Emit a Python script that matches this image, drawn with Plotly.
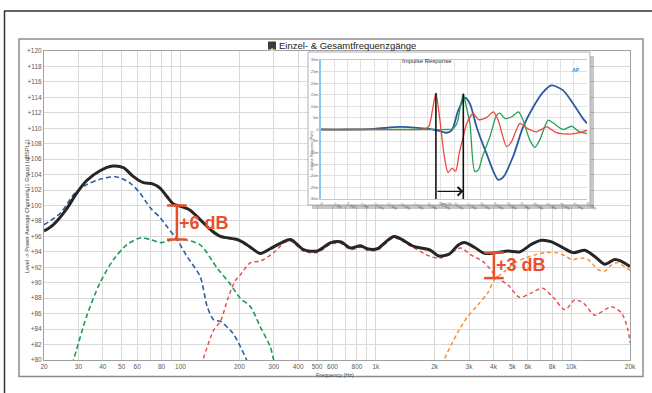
import math
import plotly.graph_objects as go

# ---------------- data: main frequency responses ----------------
total_f = [20, 22.3, 26, 29.4, 33, 38.7, 45, 51, 57, 64, 72, 79, 85, 92, 100, 112, 128, 145, 160, 195, 210,
           228, 256, 288, 330, 366, 426, 500, 588, 660, 742, 834, 904, 1016, 1238, 1568, 1906, 2080, 2370,
           2616, 2834, 3192, 3596, 4136, 4750, 5458, 6272, 7058, 7940, 9120, 10240, 11740, 13200, 14840,
           16680, 18000, 20000]
total_db = [96.7, 97.5, 99.5, 101.6, 103.2, 104.5, 105.1, 104.9, 103.8, 103.0, 102.8, 102.2, 101.2, 100.2,
            99.9, 99.4, 98.0, 96.7, 96.0, 95.6, 95.2, 94.6, 93.8, 94.4, 95.2, 95.6, 94.3, 94.1, 95.2, 95.3,
            94.5, 94.8, 94.4, 94.4, 96.0, 94.7, 94.2, 93.5, 93.7, 94.8, 95.2, 94.6, 93.8, 93.9, 94.1, 94.0,
            95.0, 95.5, 95.3, 94.5, 93.9, 94.2, 93.4, 92.4, 93.0, 92.8, 92.1]

woofer_f = [20, 24.2, 28.8, 33.1, 38.7, 47.2, 55.2, 62, 70, 78.8, 85, 95.8, 108, 126, 137, 148, 160, 185,
            200, 218, 230]
woofer_db = [97.5, 99.0, 101.6, 102.7, 103.4, 103.7, 102.9, 101.6, 99.7, 98.4, 97.3, 95.6, 93.4, 90.8, 86.9,
             85.2, 85.0, 83.5, 82.0, 80.0, 78.5]

lowmid_f = [27, 28.3, 33, 38.7, 45.4, 53, 62, 70, 79, 92, 104, 126, 154, 180, 202, 228, 256, 288, 300, 310]
lowmid_db = [78.5, 80.0, 85.6, 90.0, 93.0, 94.9, 95.8, 95.6, 95.2, 95.6, 95.6, 94.9, 91.9, 89.8, 88.0, 86.9,
             84.3, 81.7, 80.0, 79.0]

mid_f = [125, 131, 148, 160, 175, 190, 202, 228, 256, 300, 340, 366, 426, 500, 588, 660, 742, 834, 904,
         1016, 1238, 1568, 1906, 2120, 2414, 2720, 3066, 3596, 4136, 4750, 5458, 6272, 7120, 8100, 9300,
         10440, 11520, 13200, 14840, 16060, 18080, 19520, 20000]
mid_db = [78.5, 80.2, 83.9, 85.0, 88.0, 90.2, 91.0, 92.6, 92.8, 93.9, 95.2, 95.4, 94.1, 93.9, 95.0, 95.1,
          94.3, 94.6, 94.2, 94.2, 95.8, 94.5, 93.4, 93.2, 93.8, 94.5, 93.6, 92.6, 90.8, 89.7, 88.1, 88.7,
          89.3, 88.1, 86.5, 87.8, 87.4, 85.8, 86.5, 86.9, 86.1, 83.9, 82.2]

tweeter_f = [2150, 2236, 2616, 2948, 3320, 3740, 4056, 4570, 5148, 5800, 6532, 7360, 8292, 9300, 10040,
             11300, 12220, 13740, 14840, 16060, 17360, 18740, 20000]
tweeter_db = [78.5, 80.0, 83.5, 85.6, 87.1, 88.7, 90.4, 91.5, 92.6, 93.2, 93.6, 93.9, 93.9, 93.5, 93.0,
              93.2, 93.0, 91.7, 91.5, 92.3, 92.6, 92.1, 91.6]

# level-difference brackets
gap6_f, gap6_db, gap6_text = 95.8, [100.0, 95.6], "+6 dB"
gap3_f, gap3_db, gap3_text = 4020, [93.9, 90.6], "+3 dB"

# axes
x_tickvals = [20, 30, 40, 50, 60, 80, 100, 200, 300, 400, 500, 600, 800, 1000, 2000, 3000, 4000, 5000,
              6000, 8000, 10000, 20000]
x_ticktext = ["20", "30", "40", "50", "60", "80", "100", "200", "300", "400", "500", "600", "800", "1k",
              "2k", "3k", "4k", "5k", "6k", "8k", "10k", "20k"]
x_minor = [70, 90, 700, 900, 7000, 9000]
y_tickvals = list(range(80, 121, 2))
y_ticktext = ["+%d" % v for v in y_tickvals]

# ---------------- data: impulse response inset (time in ms, value in mPa/V) ----------------
ir_red_t = [0, 10, 19.5, 20.3, 21.0, 21.6, 22.3, 23.2, 23.9, 24.6, 25.3, 26.0, 26.75, 27.4, 28.6, 29.6,
            31.1, 32.4, 33.3, 34.9, 35.8, 37.4, 38.6, 40.5, 42.4, 44.25, 46.75, 48.6, 50]
ir_red_v = [0, 0, 0.3, 1.5, 9, 15.7, 5, -12, -18.6, -16.7, -18.0, -10, -3.1, 2.6, 6.9, 4.3, 5.1, 7.6,
            4.0, -7.4, -5.3, 2.6, 0.7, -1.0, 1.1, -1.4, -2.0, -1.4, -0.3]
ir_green_t = [0, 20, 23.6, 24.8, 25.6, 26.2, 26.75, 27.3, 28.0, 28.9, 29.6, 30.3, 31.75, 33.0, 33.6, 34.6,
              35.8, 37.1, 38.0, 39.25, 40.2, 41.1, 42.7, 43.6, 45.5, 47.1, 48.6, 50]
ir_green_v = [0, 0, 0, 0.3, 3, 10, 15.4, 10, 2.6, -18.1, -17.4, -12, -3.1, 6.1, 7.1, 4.7, 5.4, 7.6, 4.0,
              -4.6, -7.7, -4.6, 4.0, 2.9, 0, 1.4, -1.0, -1.7]
ir_blue_t = [0, 5, 10, 14.9, 19, 21.1, 22.5, 23.6, 24.6, 25.8, 27.1, 28.0, 29.25, 31.1, 33.3, 34.25, 36.1,
             38.0, 39.9, 41.75, 43.3, 45.5, 47.4, 49.25, 50]
ir_blue_v = [0, 0, 0.3, 1.1, 0.5, 0, -0.8, -1.4, -0.3, 8.3, 13.7, 11.1, 1.1, -10.3, -21.7, -20.6, -11.7,
             1.1, 9.7, 16.1, 19.0, 16.9, 11.1, 4.7, 2.6]
ir_mark_t = [21.6, 26.75]
ir_mark_v = [15.7, 15.4]
ir_arrow_v = -26.7
ir_x_tickvals = [i * 2.5 for i in range(21)]
ir_x_ticktext = ["0"] + ["%.1fm" % v for v in ir_x_tickvals[1:]]
ir_y_tickvals = list(range(-30, 31, 5))
ir_y_ticktext = [("%dm" % v if v != 0 else "0") for v in ir_y_tickvals]

# ---------------- layout helpers (pixel -> paper) ----------------
W, H = 652, 393
PL, PR, PT, PB = 44, 630, 51, 360


def pxx(x):
    return (x - PL) / (PR - PL)


def pxy(y):
    return (PB - y) / (PB - PT)


FONT = "Liberation Sans"
ORANGE_RED = "#e8502c"

fig = go.Figure()

dash = "5px,3px"
fig.add_trace(go.Scatter(x=woofer_f, y=woofer_db, mode="lines",
                         line=dict(color="#2c5fa6", width=1.6, dash=dash, shape="spline", smoothing=0.8)))
fig.add_trace(go.Scatter(x=lowmid_f, y=lowmid_db, mode="lines",
                         line=dict(color="#1c9c52", width=1.6, dash=dash, shape="spline", smoothing=0.8)))
fig.add_trace(go.Scatter(x=mid_f, y=mid_db, mode="lines",
                         line=dict(color="#ee4646", width=1.4, dash="4px,3px", shape="spline", smoothing=0.8)))
fig.add_trace(go.Scatter(x=tweeter_f, y=tweeter_db, mode="lines",
                         line=dict(color="#f58a2c", width=1.4, dash="4px,3px", shape="spline", smoothing=0.8)))
fig.add_trace(go.Scatter(x=total_f, y=total_db, mode="lines",
                         line=dict(color="#262626", width=3, shape="spline", smoothing=0.8)))

for f, dbs, txt in [(gap6_f, gap6_db, gap6_text), (gap3_f, gap3_db, gap3_text)]:
    fig.add_trace(go.Scatter(x=[f, f], y=dbs, mode="lines+markers",
                             line=dict(color=ORANGE_RED, width=2.5),
                             marker=dict(symbol="line-ew-open", size=14, color=ORANGE_RED,
                                         line=dict(color=ORANGE_RED, width=2.5))))
    fig.add_annotation(x=math.log10(f), y=(dbs[0] + dbs[1]) / 2, xref="x", yref="y",
                       text="<b>%s</b>" % txt,
                       showarrow=False, xanchor="left", yanchor="middle", xshift=0,
                       font=dict(family=FONT, size=18, color=ORANGE_RED))

# box subplot (white background of the inset panel)
box = dict(x0=308, x1=590, y0=52, y1=205)
fig.add_trace(go.Scatter(x=[None], y=[None], xaxis="x2", yaxis="y2", hoverinfo="skip"))

# inset traces
fig.add_trace(go.Scatter(x=ir_blue_t, y=ir_blue_v, xaxis="x3", yaxis="y3", mode="lines",
                         line=dict(color="#2c5aa0", width=1.8, shape="spline", smoothing=0.8)))
fig.add_trace(go.Scatter(x=ir_green_t, y=ir_green_v, xaxis="x3", yaxis="y3", mode="lines",
                         line=dict(color="#23a05a", width=1.3, shape="spline", smoothing=0.7)))
fig.add_trace(go.Scatter(x=ir_red_t, y=ir_red_v, xaxis="x3", yaxis="y3", mode="lines",
                         line=dict(color="#ea4a3c", width=1.3, shape="spline", smoothing=0.7)))
for t, v in zip(ir_mark_t, ir_mark_v):
    fig.add_trace(go.Scatter(x=[t, t], y=[v, -30], xaxis="x3", yaxis="y3", mode="lines",
                             line=dict(color="#111111", width=1.6)))
fig.add_annotation(x=ir_mark_t[1], y=ir_arrow_v, ax=ir_mark_t[0], ay=ir_arrow_v,
                   xref="x3", yref="y3", axref="x3", ayref="y3", showarrow=True,
                   arrowhead=4, arrowsize=1.3, arrowwidth=1.3, arrowcolor="#111111", text="")

axis_font = dict(family=FONT, size=6.5, color="#5a5a5a")
fig.update_layout(
    width=W, height=H,
    margin=dict(l=PL, r=W - PR, t=PT, b=H - PB),
    paper_bgcolor="white", plot_bgcolor="white",
    showlegend=False,
    font=dict(family=FONT),
    xaxis=dict(type="log", range=[1.30103, 4.30103], tickvals=x_tickvals, ticktext=x_ticktext,
               showgrid=True, gridcolor="#d9d9d9", gridwidth=1, zeroline=False,
               minor=dict(tickvals=x_minor, showgrid=True, gridcolor="#d9d9d9", gridwidth=1),
               showline=True, linecolor="#a0a0a0", linewidth=1, mirror=True,
               tickfont=axis_font, ticks="", domain=[0, 1]),
    yaxis=dict(range=[80, 120], tickvals=y_tickvals, ticktext=y_ticktext,
               showgrid=True, gridcolor="#d9d9d9", gridwidth=1, zeroline=False,
               showline=True, linecolor="#a0a0a0", linewidth=1, mirror=True,
               tickfont=axis_font, ticks="", domain=[0, 1]),
    xaxis2=dict(domain=[pxx(box["x0"]), pxx(box["x1"])], anchor="y2", visible=False, range=[0, 1]),
    yaxis2=dict(domain=[pxy(box["y1"]), pxy(box["y0"])], anchor="x2", visible=False, range=[0, 1]),
    xaxis3=dict(domain=[pxx(321), pxx(587)], anchor="y3", range=[0, 50], tickvals=ir_x_tickvals,
                ticktext=ir_x_ticktext, showgrid=True, gridcolor="#e2e2e2", zeroline=False,
                showline=True, linecolor="#c8c8c8", mirror=True, ticks="",
                tickfont=dict(family=FONT, size=4, color="#666666")),
    yaxis3=dict(domain=[pxy(199), pxy(60)], anchor="x3", range=[-30, 30], tickvals=ir_y_tickvals,
                ticktext=ir_y_ticktext, showgrid=True, gridcolor="#e2e2e2", zeroline=False,
                showline=True, linecolor="#8cc6ee", linewidth=1.5, ticks="",
                tickfont=dict(family=FONT, size=4, color="#666666")),
)

shapes = []
# outer dark frame (top and left edge)
shapes.append(dict(type="line", xref="paper", yref="paper", x0=pxx(4), x1=pxx(660), y0=pxy(11), y1=pxy(11),
                   line=dict(color="#333333", width=1.5)))
shapes.append(dict(type="line", xref="paper", yref="paper", x0=pxx(4.5), x1=pxx(4.5), y0=pxy(11), y1=pxy(400),
                   line=dict(color="#333333", width=1.5)))
# inner gray frame
shapes.append(dict(type="rect", xref="paper", yref="paper", x0=pxx(19), x1=pxx(643), y0=pxy(376.5), y1=pxy(39),
                   line=dict(color="#8c8c8c", width=1.5), layer="below"))
# inset shadow strips
shapes.append(dict(type="rect", xref="paper", yref="paper", x0=pxx(box["x1"]), x1=pxx(box["x1"] + 4),
                   y0=pxy(box["y1"] + 4), y1=pxy(box["y0"] + 4), line=dict(width=0),
                   fillcolor="rgba(0,0,0,0.22)"))
shapes.append(dict(type="rect", xref="paper", yref="paper", x0=pxx(box["x0"] + 4), x1=pxx(box["x1"]),
                   y0=pxy(box["y1"] + 4), y1=pxy(box["y1"]), line=dict(width=0),
                   fillcolor="rgba(0,0,0,0.22)"))
# inset border
shapes.append(dict(type="rect", xref="paper", yref="paper", x0=pxx(box["x0"]), x1=pxx(box["x1"]),
                   y0=pxy(box["y1"]), y1=pxy(box["y0"]), line=dict(color="#b0b0b0", width=1)))
# title icon
shapes.append(dict(type="rect", xref="paper", yref="paper", x0=pxx(268), x1=pxx(276), y0=pxy(49.5), y1=pxy(41.5),
                   line=dict(width=0), fillcolor="#3c3c3c"))
fig.update_layout(shapes=shapes)

# texts
fig.add_annotation(x=pxx(271.8), y=pxy(45.5), xref="paper", yref="paper", text="A", showarrow=False,
                   font=dict(family=FONT, size=6, color="white"))
fig.add_annotation(x=pxx(277), y=pxy(45), xref="paper", yref="paper", text="Einzel- &amp; Gesamtfrequenzgänge",
                   showarrow=False, xanchor="left", yanchor="middle",
                   font=dict(family=FONT, size=9.5, color="#222222"))
fig.add_annotation(x=pxx(22), y=pxy(206), xref="paper", yref="paper",
                   text="Level -> Power Average Channels (1 Group) (dBSPL1)", textangle=-90, showarrow=False,
                   font=dict(family=FONT, size=5.5, color="#444444"))
fig.add_annotation(x=pxx(335), y=pxy(369.5), xref="paper", yref="paper", text="Frequency (Hz)",
                   showarrow=False, yanchor="top", font=dict(family=FONT, size=5.5, color="#444444"))
fig.add_annotation(x=pxx(454), y=pxy(56.5), xref="paper", yref="paper", text="Impulse Response",
                   showarrow=False, font=dict(family=FONT, size=6, color="#333333"))
fig.add_annotation(x=pxx(311.5), y=pxy(129), xref="paper", yref="paper", text="Impulse Response (Pa/V)",
                   textangle=-90, showarrow=False, font=dict(family=FONT, size=3.5, color="#555555"))
fig.add_annotation(x=pxx(454), y=pxy(203.5), xref="paper", yref="paper", text="Time (s)",
                   showarrow=False, font=dict(family=FONT, size=3.5, color="#555555"))
fig.add_annotation(x=pxx(581.5), y=pxy(65), xref="paper", yref="paper", text="<b><i>AP</i></b>",
                   showarrow=False, font=dict(family=FONT, size=5, color="#2a8fd6"))

fig.write_html("out.html", config={"displayModeBar": False},
               post_script="document.body.style.margin='0px';")
